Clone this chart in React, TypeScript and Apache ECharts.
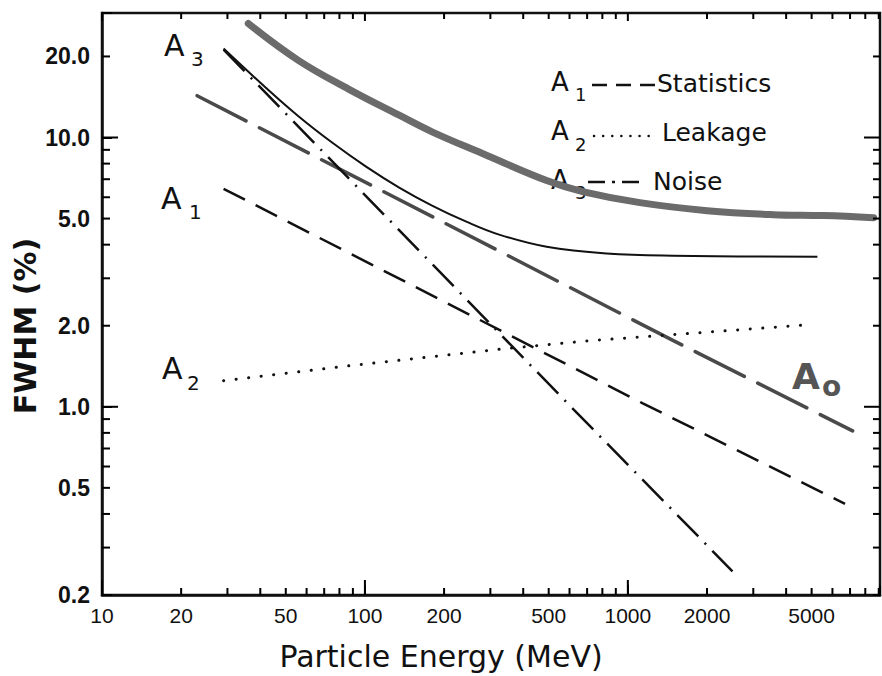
import React, { useEffect, useRef } from 'react';
import * as echarts from 'echarts';

// Axis ticks / labels
const xTickLabels = [10, 20, 50, 100, 200, 500, 1000, 2000, 5000];
const xMinorTicks = [10, 20, 30, 40, 50, 60, 70, 80, 90, 100, 200, 300, 400, 500, 600, 700, 800, 900, 1000, 2000, 3000, 4000, 5000, 6000, 7000, 8000, 9000];
const xMajorTicks = [10, 100, 1000];
const yTickLabels = [0.2, 0.5, 1, 2, 5, 10, 20];
const yMinorTicks = [0.2, 0.3, 0.4, 0.5, 0.6, 0.7, 0.8, 0.9, 1, 2, 3, 4, 5, 6, 7, 8, 9, 10, 20];
const yMajorTicks = [1, 10];

// Series (energy MeV, FWHM %)
const statistics = [[29, 6.45], [1140, 1.03], [6700, 0.436]];
const leakage = [[29, 1.25], [87, 1.42], [333, 1.64], [716, 1.76], [4955, 2.02]];
const noise = [[29, 21.2], [590, 1.03], [2500, 0.245]];
const a0Line = [[23, 14.3], [1490, 1.76], [7160, 0.814]];
const totalThin = [[29, 21.4], [42, 15.3], [56, 11.97], [75, 9.58], [101, 7.8], [135, 6.52], [180, 5.59], [243, 4.87], [324, 4.36], [491, 3.93], [832, 3.71], [1486, 3.64], [5260, 3.61]];
const totalThick = [[36, 26.5], [56, 19.3], [87, 15.1], [135, 12.1], [180, 10.5], [280, 8.72], [491, 6.92], [673, 6.3], [1111, 5.73], [2004, 5.35], [3577, 5.17], [5546, 5.13], [8610, 5.04]];

const X_MIN = 10, X_MAX = 9100, Y_MIN = 0.2, Y_MAX = 29;
const GRID = { left: 102, right: 2, top: 13, bottom: 81 };
const W = 882, H = 676;

const SANS = '"DejaVu Sans", sans-serif';
const LIB = '"Liberation Sans", Arial, sans-serif';

function txt(text: string, x: number, y: number, size: number, opts: any = {}) {
  return {
    type: 'text',
    x,
    y,
    rotation: opts.rotation || 0,
    style: {
      text,
      fill: opts.fill || '#111',
      font: `${opts.weight || 'normal'} ${size}px ${opts.family || SANS}`,
      align: opts.align || 'left',
      verticalAlign: 'middle',
    },
  };
}

function isMajor(v: number, majors: number[]) {
  return majors.some((m) => Math.abs(m - v) / m < 1e-6);
}

export default function App() {
  const ref = useRef<HTMLDivElement>(null);
  useEffect(() => {
    if (!ref.current) return;
    const chart = echarts.init(ref.current, undefined, { renderer: 'svg' });

    // pixels per decade (tick lengths expressed in the log data space)
    const pxPerDecX = (W - GRID.left - GRID.right) / Math.log10(X_MAX / X_MIN);
    const pxPerDecY = (H - GRID.top - GRID.bottom) / Math.log10(Y_MAX / Y_MIN);
    const fx = (px: number) => Math.pow(10, px / pxPerDecX);
    const fy = (px: number) => Math.pow(10, px / pxPerDecY);
    const tickLine = (data: number[][]) => ({
      type: 'line', data, showSymbol: false, z: 6, clip: false,
      lineStyle: { color: '#000', width: 2 },
    });
    const tickSeries: any[] = [];
    xMinorTicks.forEach((v) => {
      const maj = isMajor(v, xMajorTicks);
      tickSeries.push(tickLine([[v, Y_MIN], [v, Y_MIN * fy(maj ? 15 : 7)]]));
      tickSeries.push(tickLine([[v, Y_MAX], [v, Y_MAX / fy(maj ? 8 : 6)]]));
    });
    yMinorTicks.forEach((v) => {
      const maj = isMajor(v, yMajorTicks);
      tickSeries.push(tickLine([[X_MIN, v], [X_MIN * fx(maj ? 16 : 8), v]]));
      tickSeries.push(tickLine([[X_MAX, v], [X_MAX / fx(maj ? 16 : 7), v]]));
    });

    const texts: any[] = [
      // axis titles
      txt('FWHM (%)', 25, 326, 30, { rotation: Math.PI / 2, align: 'center', weight: 'bold' }),
      txt('Particle Energy (MeV)', 441, 656, 30, { align: 'center' }),
      // legend
      txt('A', 551, 82, 26), txt('1', 575, 94, 18),
      { type: 'line', shape: { x1: 592, y1: 85, x2: 655, y2: 85 }, style: { stroke: '#111', lineWidth: 2.5, lineDash: [15, 9] } },
      txt('Statistics', 657, 83, 25),
      txt('A', 551, 131, 26), txt('2', 575, 144, 18),
      { type: 'line', shape: { x1: 594, y1: 136, x2: 652, y2: 136 }, style: { stroke: '#111', lineWidth: 2.5, lineCap: 'round', lineDash: [0.1, 9] } },
      txt('Leakage', 662, 132, 25),
      txt('A', 551, 180, 26), txt('3', 575, 192, 18),
      { type: 'line', shape: { x1: 588, y1: 182, x2: 642, y2: 182 }, style: { stroke: '#111', lineWidth: 2.5, lineDash: [17, 7, 3, 7, 17] } },
      txt('Noise', 653, 181, 25),
      // curve labels
      txt('A', 164, 45, 30), txt('3', 191, 59, 20),
      txt('A', 161, 198, 30), txt('1', 189, 212, 20),
      txt('A', 162, 368, 30), txt('2', 187, 383, 20),
      txt('A', 792, 376, 36, { weight: 'bold', fill: '#555' }),
      txt('o', 822, 386, 28, { weight: 'bold', fill: '#555' }),
    ];
    const option: any = {
      animation: false,
      backgroundColor: '#fff',
      grid: { ...GRID, show: true, borderColor: '#111', borderWidth: 2.5, backgroundColor: 'transparent' },
      xAxis: {
        type: 'log', min: X_MIN, max: X_MAX, splitLine: { show: false },
        axisLine: { show: true, lineStyle: { color: '#111', width: 2.5 } },
        axisTick: { show: true, inside: true, length: 10, lineStyle: { color: '#000', width: 2 } },
        axisLabel: { show: true, customValues: xTickLabels, margin: 10, color: '#111', fontSize: 21, fontFamily: LIB, formatter: (v: number) => String(Math.round(v)) },
      },
      yAxis: {
        type: 'log', min: Y_MIN, max: Y_MAX, splitLine: { show: false },
        axisLine: { show: true, lineStyle: { color: '#111', width: 2.5 } },
        axisTick: { show: true, inside: true, length: 10, lineStyle: { color: '#000', width: 2 } },
        axisLabel: { show: true, customValues: yTickLabels, margin: 12, color: '#111', fontSize: 23, fontWeight: 'bold', fontFamily: LIB, formatter: (v: number) => v.toFixed(1) },
      },
      series: [
        { name: 'Total (measured)', type: 'line', data: totalThick, showSymbol: false, smooth: 0.4, lineStyle: { color: '#6b6b6b', width: 7, cap: 'round' }, z: 3 },
        { name: 'Total', type: 'line', data: totalThin, showSymbol: false, smooth: 0.4, lineStyle: { color: '#111', width: 2 } },
        { name: 'A0', type: 'line', data: a0Line, showSymbol: false, lineStyle: { color: '#4a4a4a', width: 3.5, type: [55, 15], cap: 'round' } },
        { name: 'Statistics', type: 'line', data: statistics, showSymbol: false, lineStyle: { color: '#111', width: 2.5, type: [24, 12] } },
        { name: 'Leakage', type: 'line', data: leakage, showSymbol: false, lineStyle: { color: '#111', width: 3, type: [0.1, 12.5], cap: 'round' } },
        { name: 'Noise', type: 'line', data: noise, showSymbol: false, lineStyle: { color: '#111', width: 2.5, type: [30, 9, 2, 9] } },
        ...tickSeries,
      ],
      graphic: texts,
    };
    chart.setOption(option);
    return () => chart.dispose();
  }, []);
  return (
    <div
      ref={ref}
      style={{ position: 'fixed', left: 0, top: 0, width: W, height: H, background: '#fff' }}
    />
  );
}
